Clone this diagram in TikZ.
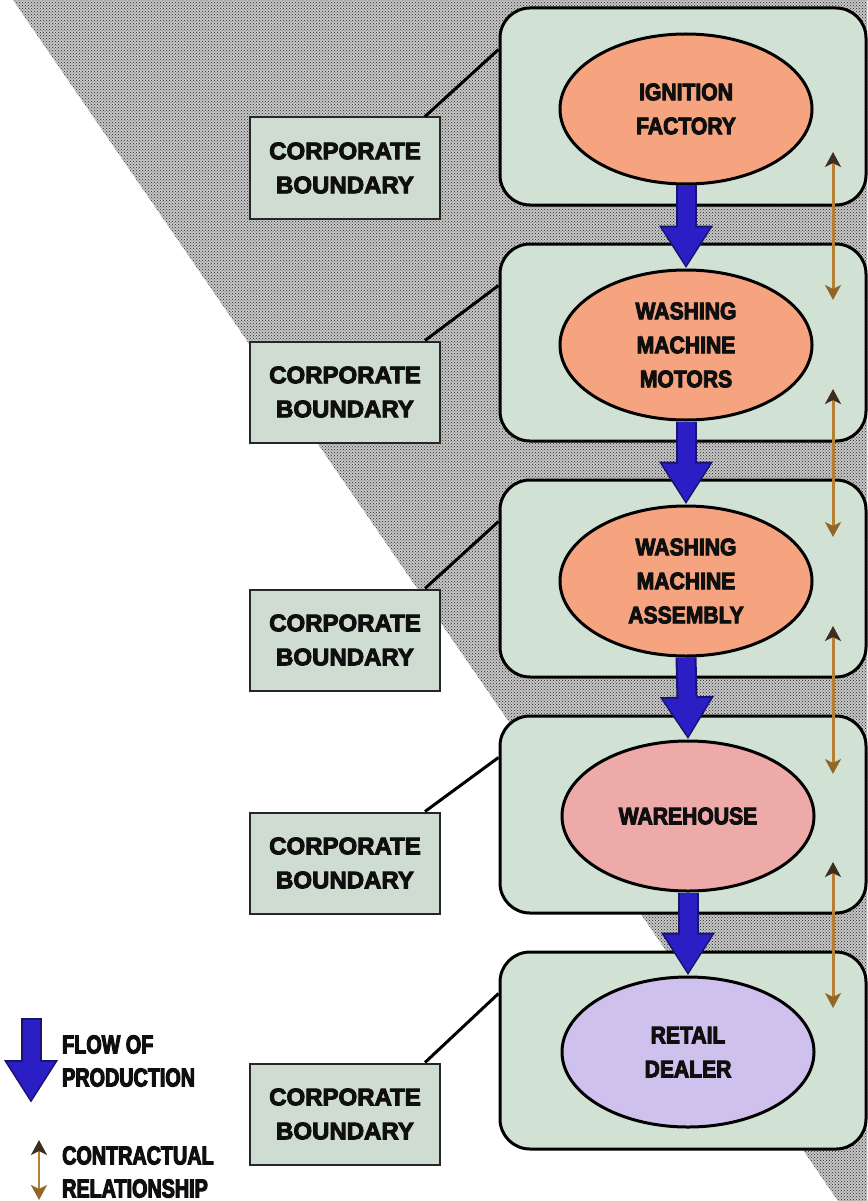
\documentclass[tikz,border=0pt]{standalone}
\usepackage{fontspec}
\setmainfont{Liberation Sans}
\newfontfamily\corpfont[BoldFeatures={FakeBold=4},UprightFeatures={FakeBold=4}]{Liberation Sans}
\newfontfamily\elfont[FakeStretch=0.88,BoldFeatures={FakeBold=4},UprightFeatures={FakeBold=4}]{Liberation Sans}
\newfontfamily\legfont[FakeStretch=0.76,BoldFeatures={FakeBold=4},UprightFeatures={FakeBold=4}]{Liberation Sans}
\usetikzlibrary{shapes.geometric,arrows.meta,calc,patterns}
\definecolor{boxfill}{RGB}{209,226,212}
\definecolor{corpfill}{RGB}{207,220,210}
\definecolor{salmon}{RGB}{246,164,128}
\definecolor{warefill}{RGB}{238,170,168}
\definecolor{retailfill}{RGB}{206,193,238}
\definecolor{flowblue}{RGB}{42,30,196}
\definecolor{flowedge}{RGB}{25,20,110}
\definecolor{contrbrown}{RGB}{182,128,52}
\definecolor{tipdark}{RGB}{60,45,30}
\definecolor{txt}{RGB}{15,15,15}
\tikzset{
  bigbox/.style={draw=black,line width=3pt,fill=boxfill,rounded corners=30pt,
    minimum width=366pt,minimum height=197pt,inner sep=0pt},
  corpbox/.style={draw=black!85,line width=2pt,fill=corpfill,minimum width=190pt,
    minimum height=101pt,align=center,inner sep=0pt,text=txt,
    font=\corpfont\bfseries\fontsize{24}{34}\selectfont},
  stage/.style={ellipse,draw=black,line width=3pt,minimum width=252pt,
    minimum height=150pt,inner sep=0pt,align=center,text=txt,
    font=\elfont\bfseries\fontsize{24}{34}\selectfont},
  flowedgestyle/.style={draw=flowedge,line width=21pt,-{Triangle[length=43pt,width=51pt]}},
  flow/.style={draw=flowblue,line width=17pt,-{Triangle[length=38pt,width=45pt]}},
  contract/.style={draw=contrbrown,line width=3pt,
    {Stealth[length=15pt,width=16pt,inset=4pt,color=tipdark]}-{Stealth[length=15pt,width=16pt,inset=4pt,color=contrbrown!80!black]}},
  link/.style={draw=black,line width=3pt},
  legtext/.style={anchor=west,align=left,inner sep=0pt,text=txt,
    font=\legfont\bfseries\fontsize{26}{33}\selectfont}
}
\begin{document}
\begin{tikzpicture}[x=1pt,y=-1pt]
\useasboundingbox (0,0) rectangle (867,1201);
\fill[white] (0,0) rectangle (867,1201);
% hatched background
\fill[gray!45] (13,0) -- (867,0) -- (867,1201) -- (838,1201) -- cycle;
\fill[pattern=crosshatch dots,pattern color=black!85] (13,0) -- (867,0) -- (867,1201) -- (838,1201) -- cycle;

% big boxes
\node[bigbox] (b1) at (683,106.5) {};
\node[bigbox] (b2) at (683,342.5) {};
\node[bigbox] (b3) at (683,578.5) {};
\node[bigbox] (b4) at (683,814.5) {};
\node[bigbox] (b5) at (683,1050.5) {};

% corporate boundary boxes
\node[corpbox] (c1) at (345,168) {CORPORATE\\BOUNDARY};
\node[corpbox] (c2) at (345,392) {CORPORATE\\BOUNDARY};
\node[corpbox] (c3) at (345,640) {CORPORATE\\BOUNDARY};
\node[corpbox] (c4) at (345,863) {CORPORATE\\BOUNDARY};
\node[corpbox] (c5) at (345,1114) {CORPORATE\\BOUNDARY};

% links
\foreach \i in {1,...,5}{
  \draw[link] ($(c\i.north east)+(-16,0)$) -- ($(b\i.north west)+(0,43)$);
}

% stages
\node[stage,fill=salmon] (e1) at (686,109) {IGNITION\\FACTORY};
\node[stage,fill=salmon] (e2) at (686,345) {WASHING\\MACHINE\\MOTORS};
\node[stage,fill=salmon] (e3) at (686,581) {WASHING\\MACHINE\\ASSEMBLY};
\node[stage,fill=warefill] (e4) at (688,816) {WAREHOUSE};
\node[stage,fill=retailfill] (e5) at (688,1052) {RETAIL\\DEALER};

% flow arrows
\foreach \a/\b in {e1/e2,e2/e3,e3/e4,e4/e5}{
  \draw[flowedgestyle] (\a.south) -- (\b.north);
  \draw[flow] (\a.south) -- ($(\b.north)+(0,-3)$);
}

% contractual arrows
\coordinate (k1a) at (833,152); \coordinate (k1b) at (833,300);
\coordinate (k2a) at (833,389); \coordinate (k2b) at (833,537);
\coordinate (k3a) at (833,626); \coordinate (k3b) at (833,774);
\coordinate (k4a) at (833,862); \coordinate (k4b) at (833,1008);
\draw[contract] (k1a) -- (k1b);
\draw[contract] (k2a) -- (k2b);
\draw[contract] (k3a) -- (k3b);
\draw[contract] (k4a) -- (k4b);

% legend
\coordinate (lf1) at (31,1018); \coordinate (lf2) at (31,1103);
\coordinate (lf3) at (31,1100);
\draw[flowedgestyle] (lf1) -- (lf2);
\draw[flow] ($(lf1)+(0,2)$) -- (lf3);
\node[legtext] (lt1) at (62,1061) {FLOW OF\\PRODUCTION};
\coordinate (lc1) at (39,1140); \coordinate (lc2) at (39,1200);
\draw[contract,line width=2.5pt] (lc1) -- (lc2);
\node[legtext] (lt2) at (62,1172) {CONTRACTUAL\\RELATIONSHIP};
\end{tikzpicture}
\end{document}
